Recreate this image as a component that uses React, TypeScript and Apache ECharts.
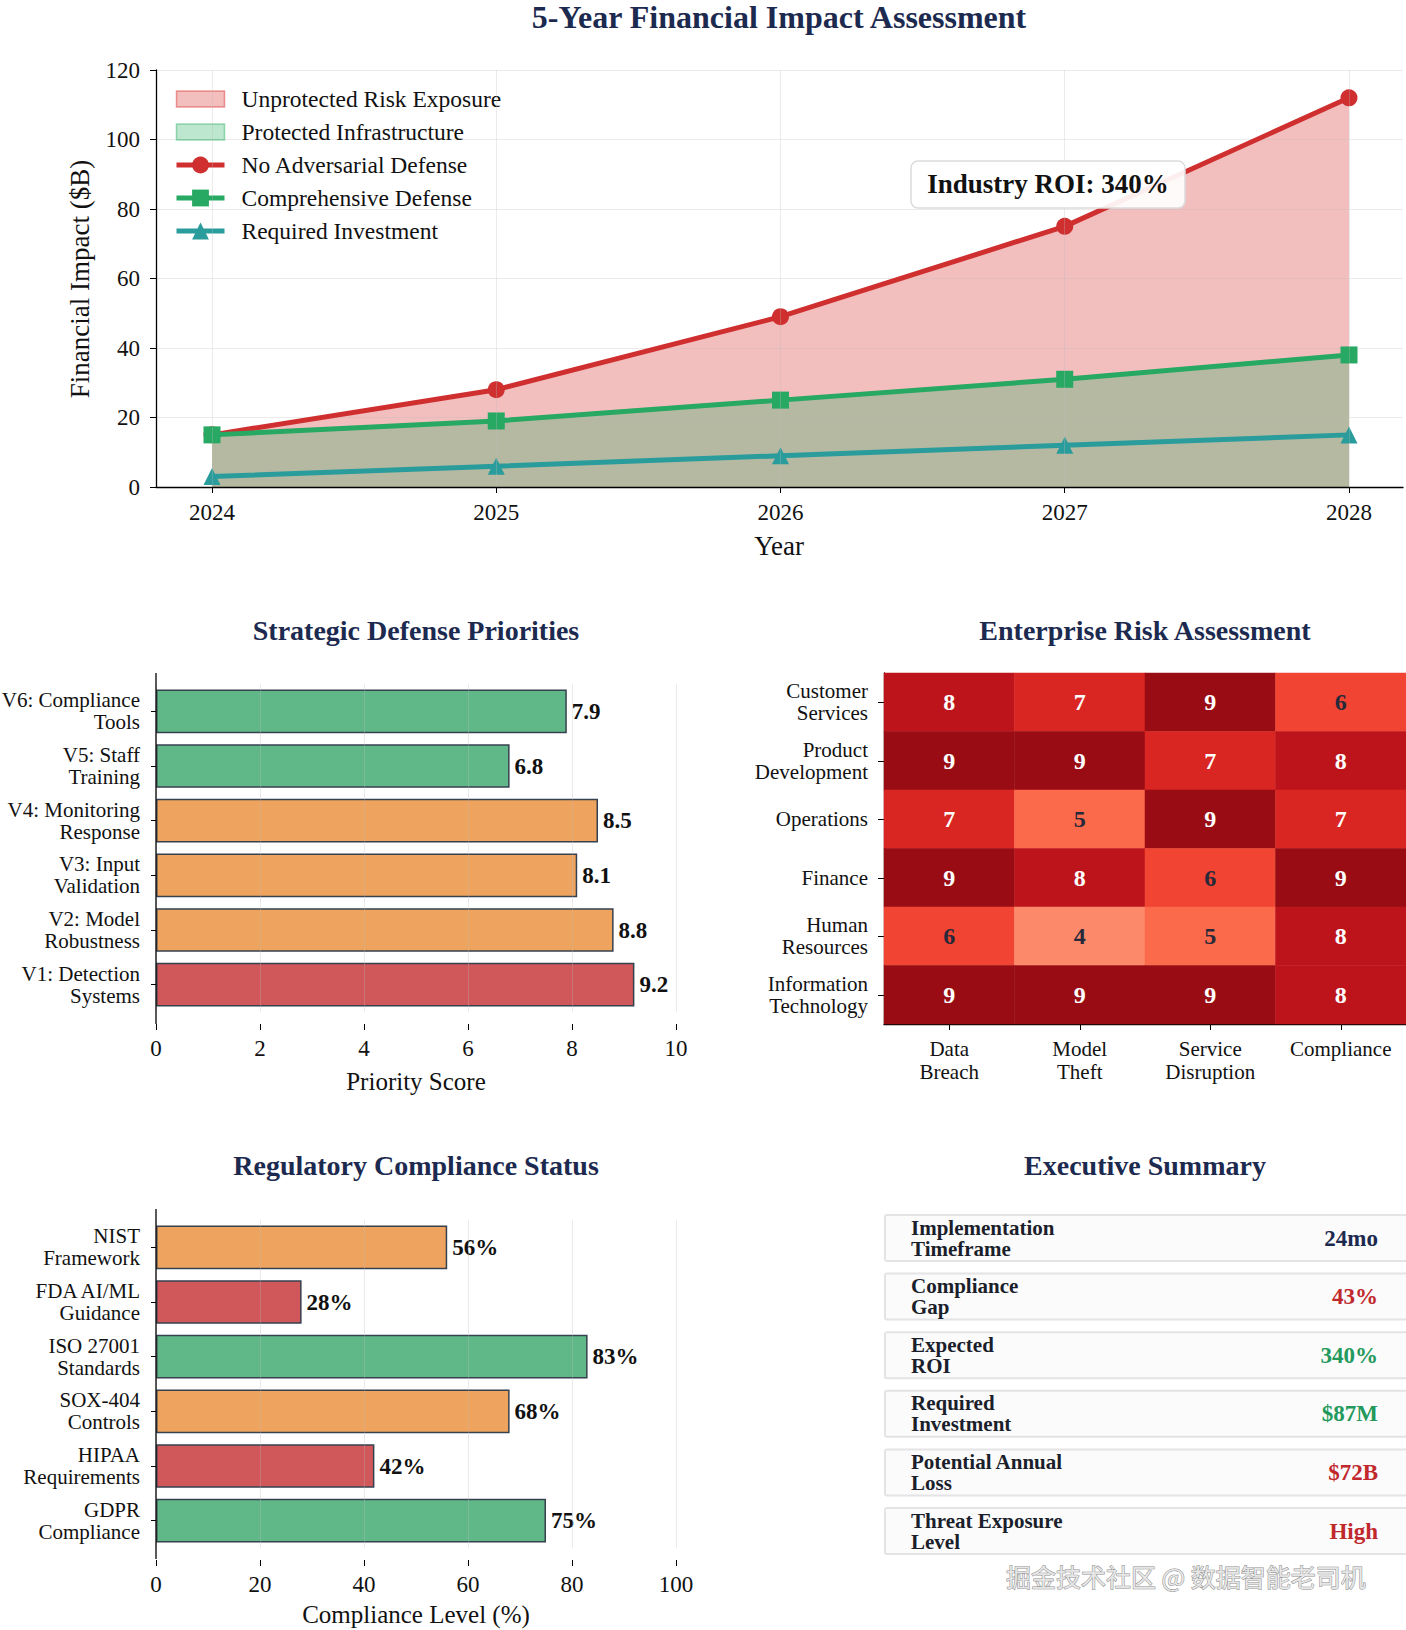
import React, { useEffect, useRef } from "react";
import * as echarts from "echarts";

// ---------- data ----------
const years = [2024, 2025, 2026, 2027, 2028];
const noDefense = [15, 28, 49, 75, 112];
const comprehensiveDefense = [15, 19, 25, 31, 38];
const requiredInvestment = [3, 6, 9, 12, 15];
const roiNote = "Industry ROI: 340%";

const priorityLabels = [
  "V1: Detection\nSystems",
  "V2: Model\nRobustness",
  "V3: Input\nValidation",
  "V4: Monitoring\nResponse",
  "V5: Staff\nTraining",
  "V6: Compliance\nTools",
];
const priorityScores = [9.2, 8.8, 8.1, 8.5, 6.8, 7.9];

const riskRows = [
  "Customer\nServices",
  "Product\nDevelopment",
  "Operations",
  "Finance",
  "Human\nResources",
  "Information\nTechnology",
];
const riskCols = ["Data\nBreach", "Model\nTheft", "Service\nDisruption", "Compliance"];
const riskMatrix = [
  [8, 7, 9, 6],
  [9, 9, 7, 8],
  [7, 5, 9, 7],
  [9, 8, 6, 9],
  [6, 4, 5, 8],
  [9, 9, 9, 8],
];

const complianceLabels = [
  "GDPR\nCompliance",
  "HIPAA\nRequirements",
  "SOX-404\nControls",
  "ISO 27001\nStandards",
  "FDA AI/ML\nGuidance",
  "NIST\nFramework",
];
const complianceLevels = [75, 42, 68, 83, 28, 56];

const summaryLabels = [
  "Implementation\nTimeframe",
  "Compliance\nGap",
  "Expected\nROI",
  "Required\nInvestment",
  "Potential Annual\nLoss",
  "Threat Exposure\nLevel",
];
const summaryValues = ["24mo", "43%", "340%", "$87M", "$72B", "High"];
const summaryStatus = ["neutral", "bad", "good", "good", "bad", "bad"];

const watermark = "掘金技术社区 @ 数据智能老司机";

// ---------- styles ----------
const SERIF = '"Liberation Serif", "Times New Roman", serif';
const NAVY = "#1d2a50";
const RED_LINE = "#d02f30";
const GREEN_LINE = "#27a863";
const TEAL_LINE = "#2a9c9c";
const BAR_RED = "#d0575a";
const BAR_ORANGE = "#eea45e";
const BAR_GREEN = "#60b888";
const BAR_EDGE = "#36414f";
const REDS = ["#fff5f0", "#fee0d2", "#fcbba1", "#fc9272", "#fb6a4a", "#ef3b2c", "#cb181d", "#a50f15", "#67000d"];
const STATUS_COLOR: Record<string, string> = { neutral: "#1d2a50", bad: "#c0282c", good: "#23995c" };
const GRID_LINE = "rgba(190,190,190,0.3)";
const LEGEND_RECT = "path://M0,0 L48,0 L48,16 L0,16 Z";

const priorityColor = (v: number) => (v >= 9 ? BAR_RED : v >= 8 ? BAR_ORANGE : BAR_GREEN);
const complianceColor = (v: number) => (v >= 70 ? BAR_GREEN : v >= 50 ? BAR_ORANGE : BAR_RED);

function txt(x: number, y: number, text: string, o: any = {}) {
  return {
    type: "text",
    x,
    y,
    rotation: o.rotation || 0,
    z: 10,
    silent: true,
    style: {
      text,
      fill: o.fill || "#111",
      fontSize: o.size || 20,
      fontWeight: o.weight || "normal",
      fontFamily: o.family || SERIF,
      align: o.align || "center",
      verticalAlign: "middle",
      lineHeight: o.lineHeight,
      stroke: o.stroke,
      lineWidth: o.lineWidth,
    },
  };
}

export default function App() {
  const ref = useRef<HTMLDivElement>(null);

  useEffect(() => {
    document.body.style.margin = "0";
    const chart = echarts.init(ref.current!, null, { renderer: "svg" });

    const graphic: any[] = [];
    // titles
    graphic.push(txt(779, 17, "5-Year Financial Impact Assessment", { size: 32, weight: "bold", fill: NAVY }));
    graphic.push(txt(416, 630, "Strategic Defense Priorities", { size: 28, weight: "bold", fill: NAVY }));
    graphic.push(txt(1145, 630, "Enterprise Risk Assessment", { size: 28, weight: "bold", fill: NAVY }));
    graphic.push(txt(416, 1165, "Regulatory Compliance Status", { size: 28, weight: "bold", fill: NAVY }));
    graphic.push(txt(1145, 1165, "Executive Summary", { size: 28, weight: "bold", fill: NAVY }));
    // axis names
    graphic.push(txt(80, 279, "Financial Impact ($B)", { size: 27, rotation: Math.PI / 2 }));
    graphic.push(txt(779, 546, "Year", { size: 27 }));
    graphic.push(txt(416, 1081, "Priority Score", { size: 25 }));
    graphic.push(txt(416, 1614, "Compliance Level (%)", { size: 25 }));
    // spines for bar charts
    graphic.push({ type: "line", z: 10, silent: true, shape: { x1: 156, y1: 673, x2: 156, y2: 1024 }, style: { stroke: "#000", lineWidth: 1.3 } });
    graphic.push({ type: "line", z: 10, silent: true, shape: { x1: 156, y1: 1209, x2: 156, y2: 1559 }, style: { stroke: "#000", lineWidth: 1.3 } });
    // ROI annotation
    graphic.push({
      type: "rect",
      z: 10,
      silent: true,
      shape: { x: 911, y: 161, width: 274, height: 47, r: 7 },
      style: { fill: "rgba(255,255,255,0.92)", stroke: "#dcdcdc", lineWidth: 1.5 },
    });
    graphic.push(txt(1048, 184, roiNote, { size: 27, weight: "bold" }));
    // executive summary
    summaryLabels.forEach((lab, i) => {
      const top = 1215 + i * 58.6;
      graphic.push({
        type: "rect",
        z: 9,
        silent: true,
        shape: { x: 885, y: top, width: 530, height: 46, r: 2 },
        style: { fill: "#fbfbfc", stroke: "#e4e4e6", lineWidth: 2 },
      });
      graphic.push(txt(911, top + 23, lab, { size: 21, weight: "bold", align: "left", lineHeight: 21, fill: "#1b1f2b" }));
      graphic.push(txt(1378, top + 23, summaryValues[i], { size: 23, weight: "bold", align: "right", fill: STATUS_COLOR[summaryStatus[i]] }));
    });
    // watermark
    graphic.push(
      txt(1006, 1576, watermark, {
        size: 25,
        align: "left",
        family: '"Noto Sans CJK SC", sans-serif',
        fill: "#e6e6e6",
        stroke: "#8c8c8c",
        lineWidth: 1,
      })
    );

    const heatData: any[] = [];
    riskMatrix.forEach((row, r) =>
      row.forEach((v, c) =>
        heatData.push({ value: [c, r, v], label: { color: v <= 6 ? "#27293a" : "#ffffff" } })
      )
    );

    const tickLabel = { color: "#111", fontSize: 23, fontFamily: SERIF };
    const catLabel = { color: "#111", fontSize: 21, fontFamily: SERIF, lineHeight: 22, interval: 0 };
    const blackLine = { lineStyle: { color: "#000", width: 1.3 } };

    const option: any = {
      animation: false,
      backgroundColor: "#ffffff",
      textStyle: { fontFamily: SERIF },
      graphic,
      legend: {
        orient: "vertical",
        left: 169,
        top: 81,
        itemWidth: 48,
        itemHeight: 21,
        itemGap: 7,
        lineStyle: { width: "inherit" },
        textStyle: { fontSize: 23.5, color: "#111", fontFamily: SERIF, lineHeight: 26, padding: [0, 0, 0, 12] },
        data: [
          { name: "Unprotected Risk Exposure", icon: LEGEND_RECT, itemStyle: { color: "rgba(214,39,40,0.3)", borderColor: "rgba(214,39,40,0.45)", borderWidth: 1.5 } },
          { name: "Protected Infrastructure", icon: LEGEND_RECT, itemStyle: { color: "rgba(39,174,96,0.3)", borderColor: "rgba(39,174,96,0.45)", borderWidth: 1.5 } },
          "No Adversarial Defense",
          "Comprehensive Defense",
          "Required Investment",
        ],
      },
      grid: [
        { left: 156, top: 70, width: 1247, height: 417, outerBoundsMode: "none" },
        { left: 156, top: 684, width: 520, height: 328, outerBoundsMode: "none" },
        { left: 884, top: 673, width: 522, height: 351, outerBoundsMode: "none" },
        { left: 156, top: 1220, width: 520, height: 328, outerBoundsMode: "none" },
      ],
      xAxis: [
        {
          gridIndex: 0,
          type: "value",
          min: 2023.803,
          max: 2028.19,
          z: 2,
          axisLine: blackLine,
          axisTick: { show: true, length: 6, customValues: years, lineStyle: { color: "#000" } },
          axisLabel: { ...tickLabel, margin: 14, customValues: years, formatter: (v: number) => String(Math.round(v)) },
          splitLine: { show: false },
        },
        {
          gridIndex: 1,
          type: "value",
          min: 0,
          max: 10,
          interval: 2,
          offset: 12,
          z: 2,
          axisLine: blackLine,
          axisTick: { show: true, length: 6, lineStyle: { color: "#000" } },
          axisLabel: { ...tickLabel, margin: 13 },
          splitLine: { show: true, lineStyle: { color: GRID_LINE } },
        },
        {
          gridIndex: 2,
          type: "category",
          data: riskCols,
          axisLine: blackLine,
          axisTick: { show: true, length: 6, alignWithLabel: true, interval: 0, lineStyle: { color: "#000" } },
          axisLabel: { ...catLabel, lineHeight: 23, margin: 13 },
          splitLine: { show: false },
        },
        {
          gridIndex: 3,
          type: "value",
          min: 0,
          max: 100,
          interval: 20,
          offset: 12,
          z: 2,
          axisLine: blackLine,
          axisTick: { show: true, length: 6, lineStyle: { color: "#000" } },
          axisLabel: { ...tickLabel, margin: 13 },
          splitLine: { show: true, lineStyle: { color: GRID_LINE } },
        },
      ],
      yAxis: [
        {
          gridIndex: 0,
          type: "value",
          min: 0,
          max: 120,
          interval: 20,
          z: 2,
          axisLine: { show: true, ...blackLine },
          axisTick: { show: true, length: 6, lineStyle: { color: "#000" } },
          axisLabel: { ...tickLabel, margin: 16 },
          splitLine: { show: true, lineStyle: { color: GRID_LINE } },
        },
        {
          gridIndex: 1,
          type: "category",
          data: priorityLabels,
          axisLine: { show: false },
          axisTick: { show: true, length: 5, alignWithLabel: true, interval: 0, lineStyle: { color: "#000" } },
          axisLabel: { ...catLabel, margin: 16 },
        },
        {
          gridIndex: 2,
          type: "category",
          data: riskRows,
          inverse: true,
          axisLine: blackLine,
          axisTick: { show: true, length: 6, alignWithLabel: true, interval: 0, lineStyle: { color: "#000" } },
          axisLabel: { ...catLabel, margin: 16 },
        },
        {
          gridIndex: 3,
          type: "category",
          data: complianceLabels,
          axisLine: { show: false },
          axisTick: { show: true, length: 5, alignWithLabel: true, interval: 0, lineStyle: { color: "#000" } },
          axisLabel: { ...catLabel, margin: 16 },
        },
      ],
      visualMap: {
        type: "continuous",
        show: false,
        seriesIndex: 6,
        min: 0,
        max: 10,
        inRange: { color: REDS },
      },
      series: [
        {
          name: "Unprotected Risk Exposure",
          type: "line",
          xAxisIndex: 0,
          yAxisIndex: 0,
          z: 1,
          data: years.map((y, i) => [y, noDefense[i]]),
          symbol: "none",
          lineStyle: { width: 0 },
          itemStyle: { color: "rgba(214,39,40,0.3)" },
          areaStyle: { color: "rgba(214,39,40,0.3)", opacity: 1 },
        },
        {
          name: "Protected Infrastructure",
          type: "line",
          xAxisIndex: 0,
          yAxisIndex: 0,
          z: 1,
          data: years.map((y, i) => [y, comprehensiveDefense[i]]),
          symbol: "none",
          lineStyle: { width: 0 },
          itemStyle: { color: "rgba(39,174,96,0.3)" },
          areaStyle: { color: "rgba(39,174,96,0.3)", opacity: 1 },
          markLine: {
            silent: true,
            symbol: "none",
            label: { show: false },
            lineStyle: { color: GRID_LINE, type: "solid", width: 1 },
            data: years.map((y) => ({ xAxis: y })),
          },
        },
        {
          name: "No Adversarial Defense",
          type: "line",
          xAxisIndex: 0,
          yAxisIndex: 0,
          z: 3,
          data: years.map((y, i) => [y, noDefense[i]]),
          symbol: "circle",
          symbolSize: 17,
          lineStyle: { width: 5, color: RED_LINE },
          itemStyle: { color: RED_LINE },
        },
        {
          name: "Comprehensive Defense",
          type: "line",
          xAxisIndex: 0,
          yAxisIndex: 0,
          z: 4,
          data: years.map((y, i) => [y, comprehensiveDefense[i]]),
          symbol: "rect",
          symbolSize: 17,
          lineStyle: { width: 5, color: GREEN_LINE },
          itemStyle: { color: GREEN_LINE },
        },
        {
          name: "Required Investment",
          type: "line",
          xAxisIndex: 0,
          yAxisIndex: 0,
          z: 4,
          data: years.map((y, i) => [y, requiredInvestment[i]]),
          symbol: "triangle",
          symbolSize: 17,
          lineStyle: { width: 5, color: TEAL_LINE },
          itemStyle: { color: TEAL_LINE },
        },
        {
          name: "Priority Score",
          type: "bar",
          xAxisIndex: 1,
          yAxisIndex: 1,
          z: 1,
          barWidth: "80%",
          data: priorityScores.map((v) => ({
            value: v,
            itemStyle: { color: priorityColor(v), borderColor: BAR_EDGE, borderWidth: 1.5 },
          })),
          label: {
            show: true,
            position: "right",
            distance: 5,
            fontSize: 23,
            fontWeight: "bold",
            color: "#111",
            fontFamily: SERIF,
            formatter: (p: any) => Number(p.value).toFixed(1),
          },
        },
        {
          name: "Risk",
          type: "heatmap",
          xAxisIndex: 2,
          yAxisIndex: 2,
          data: heatData,
          label: { show: true, fontSize: 24, fontWeight: "bold", fontFamily: SERIF },
          itemStyle: { borderWidth: 0 },
          emphasis: { disabled: true },
        },
        {
          name: "Compliance Level",
          type: "bar",
          xAxisIndex: 3,
          yAxisIndex: 3,
          z: 1,
          barWidth: "80%",
          data: complianceLevels.map((v) => ({
            value: v,
            itemStyle: { color: complianceColor(v), borderColor: BAR_EDGE, borderWidth: 1.5 },
          })),
          label: {
            show: true,
            position: "right",
            distance: 5,
            fontSize: 23,
            fontWeight: "bold",
            color: "#111",
            fontFamily: SERIF,
            formatter: (p: any) => `${p.value}%`,
          },
        },
      ],
    };

    chart.setOption(option);
    return () => chart.dispose();
  }, []);

  return (
    <div
      ref={ref}
      style={{ position: "absolute", left: 0, top: 0, width: 1406, height: 1630, background: "#fff" }}
    />
  );
}
